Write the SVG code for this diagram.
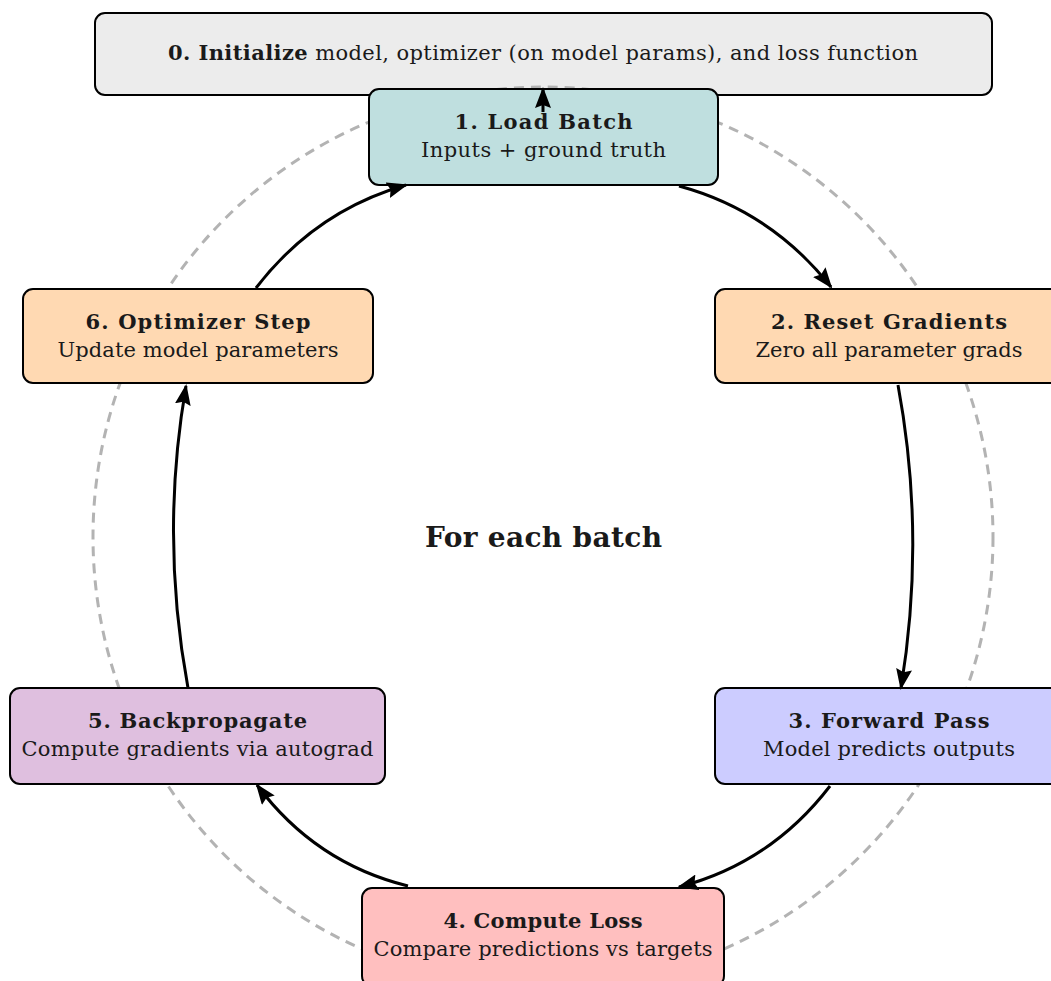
<svg xmlns="http://www.w3.org/2000/svg" width="1051" height="981" viewBox="0 0 1051 981">
  <style>
    .node { stroke: #000; stroke-width: 2; }
    .t { font-family: "DejaVu Serif", "Liberation Serif", serif; font-size: 21px; fill: #1a1a1a; text-anchor: middle; }
    .b { font-weight: bold; }
    .edge { fill: none; stroke: #000; stroke-width: 3; marker-end: url(#arrow); }
    .ring { fill: none; stroke: #b3b3b3; stroke-width: 3; stroke-dasharray: 10 7; }
  </style>
  <defs>
    <marker id="arrow" viewBox="0 0 21 16" refX="19" refY="8" markerWidth="21" markerHeight="16" markerUnits="userSpaceOnUse" orient="auto">
      <path d="M0,0 L21,8 L0,16 L3,8 Z" fill="#000"/>
    </marker>
  </defs>
  <rect width="1051" height="981" fill="#fff"/>

  <g id="init">
    <rect class="node" x="95" y="13" width="897" height="82" rx="10" fill="#ececec"/>
    <text class="t" x="543" y="60" textLength="750"><tspan class="b">0. Initialize</tspan> model, optimizer (on model params), and loss function</text>
  </g>

  <!-- loop guide, drawn above the init box and below the step boxes -->
  <circle class="ring" cx="543" cy="537" r="450"/>

  <g id="step1">
    <rect class="node" x="369" y="89" width="349" height="96" rx="10" fill="#bfdfdf"/>
    <text class="t b" x="543.5" y="129" textLength="178">1. Load Batch</text>
    <text class="t" x="543.5" y="157" textLength="245">Inputs + ground truth</text>
  </g>

  <g id="step2">
    <rect class="node" x="715" y="289" width="348" height="94" rx="10" fill="#ffd9b2"/>
    <text class="t b" x="889" y="329" textLength="236">2. Reset Gradients</text>
    <text class="t" x="889" y="357" textLength="267">Zero all parameter grads</text>
  </g>

  <g id="step3">
    <rect class="node" x="715" y="688" width="348" height="96" rx="10" fill="#ccccff"/>
    <text class="t b" x="889" y="728" textLength="201">3. Forward Pass</text>
    <text class="t" x="889" y="756" textLength="252">Model predicts outputs</text>
  </g>

  <g id="step4">
    <rect class="node" x="362" y="888" width="362" height="98" rx="10" fill="#ffbfbf"/>
    <text class="t b" x="543" y="928" textLength="199">4. Compute Loss</text>
    <text class="t" x="543" y="956" textLength="339">Compare predictions vs targets</text>
  </g>

  <g id="step5">
    <rect class="node" x="10" y="688" width="375" height="96" rx="10" fill="#dfbfdf"/>
    <text class="t b" x="197.5" y="728" textLength="219">5. Backpropagate</text>
    <text class="t" x="197.5" y="756" textLength="352">Compute gradients via autograd</text>
  </g>

  <g id="step6">
    <rect class="node" x="23" y="289" width="350" height="94" rx="10" fill="#ffd9b2"/>
    <text class="t b" x="198" y="329" textLength="225">6. Optimizer Step</text>
    <text class="t" x="198" y="357" textLength="281">Update model parameters</text>
  </g>

  <text class="t b" x="543.5" y="547" style="font-size:28px" textLength="237">For each batch</text>

  <g id="connectors">
    <path class="edge" d="M543,112 L543,89"/>
    <path class="edge" d="M679,186 Q771,211 831,287"/>
    <path class="edge" d="M898,385 Q926,536 901,688"/>
    <path class="edge" d="M830,786 Q771,863 679,887"/>
    <path class="edge" d="M408,886 Q315,863 257,785"/>
    <path class="edge" d="M188,688 Q160,536 186,386"/>
    <path class="edge" d="M256,288 Q315,211 406,185"/>
  </g>
</svg>
